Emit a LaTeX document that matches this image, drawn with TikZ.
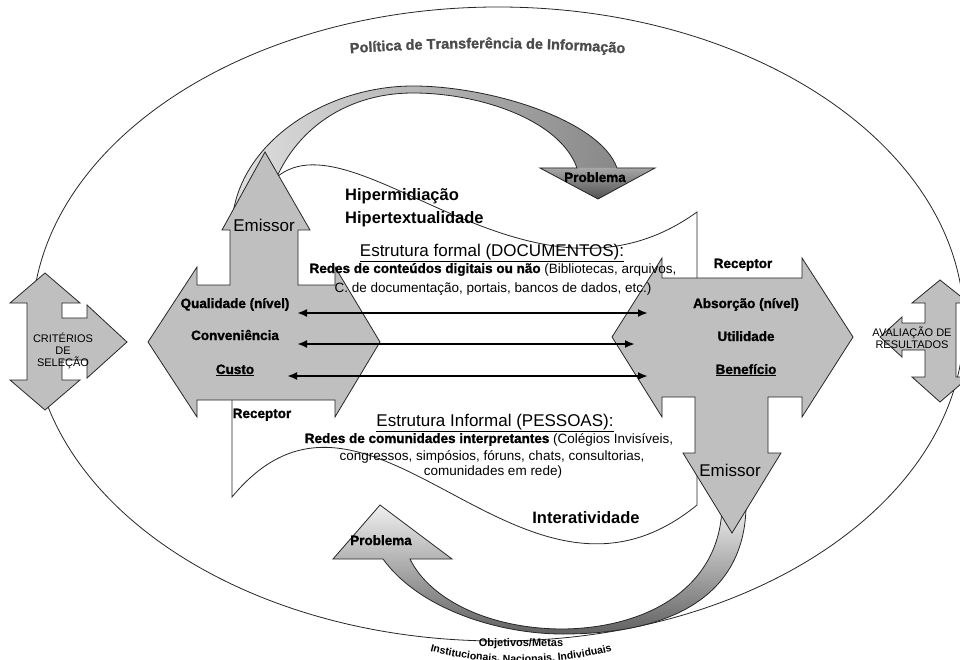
\documentclass[tikz,border=0pt]{standalone}
\usepackage{fontspec}
\setmainfont{Liberation Sans}
\newfontfamily\heavyfont[FakeBold=1.2]{Liberation Sans Bold}
\usetikzlibrary{arrows.meta,decorations.text}
\tikzset{
  body/.style={fill=black!25, draw=black!85, line width=0.8pt, line join=miter},
  wavebox/.style={fill=white, draw=black!85, line width=0.8pt},
  edgeline/.style={draw=black!85, line width=0.8pt},
  lbl/.style={inner sep=0pt, font=\heavyfont\fontsize{13.5}{15}\selectfont},
  bigtxt/.style={inner sep=0pt, font=\fontsize{17}{19}\selectfont},
  bigbold/.style={inner sep=0pt, font=\bfseries\fontsize{16.5}{19}\selectfont},
  bodytxt/.style={inner sep=0pt, font=\fontsize{13.5}{15}\selectfont},
  smalltxt/.style={inner sep=0pt, align=center, font=\fontsize{11}{12}\selectfont},
  dbl/.style={{Latex[length=10pt,width=8pt]}-{Latex[length=10pt,width=8pt]}, line width=2.4pt},
}
\begin{document}
\begin{tikzpicture}[x=1pt,y=-1pt]
\useasboundingbox (0,0) rectangle (960,660);
\fill[white] (0,0) rectangle (960,660);

% outer ellipse
\draw[black!85, line width=0.8pt] (498,324) ellipse [x radius=466pt, y radius=317pt];

% title along arc
\path[decorate, decoration={text along path, text align=center,
  text={|\heavyfont\fontsize{14.5}{16}\selectfont\color{black!70}|Política de Transferência de Informação}}]
  (330,55) .. controls (430,46) and (545,46) .. (645,55);

% wave (white flag)
\path[wavebox] (232,497) -- (232,290) -- (262,195) .. controls (330,80) and (520,340) .. (697,212)
  -- (697,505) .. controls (520,650) and (370,330) .. (232,497) -- cycle;

% top curved arrow
\path[left color=black!12, right color=black!50]
  (232,235) .. controls (228,150) and (320,86) .. (413,86) .. controls (490,86) and (600,120) .. (617,168)
  -- (655,168) -- (598,199) -- (540,168) -- (577,168)
  .. controls (560,120) and (480,93) .. (413,93) .. controls (330,93) and (268,150) .. (263,235) -- cycle;
\path[top color=black!35, bottom color=black!68] (540,168) -- (655,168) -- (598,199) -- cycle;
\draw[edgeline]
  (232,235) .. controls (228,150) and (320,86) .. (413,86) .. controls (490,86) and (600,120) .. (617,168)
  -- (655,168) -- (598,199) -- (540,168) -- (577,168)
  .. controls (560,120) and (480,93) .. (413,93) .. controls (330,93) and (268,150) .. (263,235) -- cycle;

% bottom curved arrow
\path[draw=black!85, line width=0.8pt, top color=black!4, bottom color=black!62]
  (383,559) .. controls (420,610) and (500,634) .. (563,634) .. controls (680,634) and (748,590) .. (746,500)
  -- (722,500) .. controls (724,585) and (650,628) .. (563,629) .. controls (490,629) and (430,600) .. (410,559)
  -- (452,559) -- (380,505) -- (333,559) -- cycle;

% left small shape (criterios)
\path[body] (45,273) -- (80,303) -- (62,303) -- (62,318) -- (87,318) -- (87,305) -- (127,342)
  -- (87,378) -- (87,360) -- (62,360) -- (62,380) -- (80,380) -- (45,410) -- (10,380)
  -- (27,380) -- (27,303) -- (10,303) -- cycle;
% right small shape (avaliacao)
\path[body] (940,280) -- (969,303) -- (956,303) -- (956,377) -- (969,377) -- (940,402) -- (912,377)
  -- (925,377) -- (925,350) -- (902,350) -- (902,357) -- (880,337) -- (902,317) -- (902,323)
  -- (925,323) -- (925,303) -- (912,303) -- cycle;

% left big body
\path[body] (265,152) -- (310,230) -- (298,230) -- (298,285) -- (335,285) -- (335,267) -- (380,342)
  -- (335,417) -- (335,400) -- (197,400) -- (197,417) -- (148,342) -- (197,267) -- (197,285)
  -- (230,285) -- (230,230) -- (222,230) -- cycle;
% right big body
\path[body] (662,278) -- (802,278) -- (802,258) -- (853,337) -- (802,417) -- (802,397) -- (768,397)
  -- (768,453) -- (781,453) -- (732,533) -- (683,453) -- (695,453) -- (695,397) -- (662,397)
  -- (662,417) -- (612,337) -- (662,258) -- cycle;

% double arrows
\coordinate (a1l) at (297,313); \coordinate (a1r) at (648,313);
\coordinate (a2l) at (297,344); \coordinate (a2r) at (635,344);
\coordinate (a3l) at (287,376); \coordinate (a3r) at (648,376);
\draw[dbl] (a1l) -- (a1r);
\draw[dbl] (a2l) -- (a2r);
\draw[dbl] (a3l) -- (a3r);

% texts left body
\node[bigtxt, anchor=base] (emL) at (264,232) {Emissor};
\node[lbl, anchor=base] (qual) at (235,308) {Qualidade (nível)};
\node[lbl, anchor=base] (conv) at (235,340) {Conveniência};
\node[lbl, anchor=base] (cust) at (235,374) {\underline{Custo}};
\node[lbl, anchor=base] (recL) at (262,418) {Receptor};
% texts right body
\node[lbl, anchor=base] (recR) at (743,268) {Receptor};
\node[lbl, anchor=base] (abs) at (746,308) {Absorção (nível)};
\node[lbl, anchor=base] (util) at (746,341) {Utilidade};
\node[lbl, anchor=base] (bene) at (746,374) {\underline{Benefício}};
\node[bigtxt, anchor=base] (emR) at (730,476) {Emissor};
% problema labels
\node[lbl, anchor=base] (probT) at (595,182) {Problema};
\node[lbl, anchor=base] (probB) at (381,545) {Problema};

% center texts
\node[bigbold, anchor=base west] (hipm) at (345,201) {Hipermidiação};
\node[bigbold, anchor=base west] (hipt) at (345,224) {Hipertextualidade};
\node[bigtxt, anchor=base] (ef) at (492,256) {\underline{Estrutura formal (DOCUMENTOS):}};
\node[bodytxt, anchor=base] (rd1) at (493,273) {{\heavyfont Redes de conteúdos digitais ou não} (Bibliotecas, arquivos,};
\node[bodytxt, anchor=base] (rd2) at (493,292) {C. de documentação, portais, bancos de dados, etc.)};
\node[bigtxt, anchor=base] (ei) at (495,426) {\underline{Estrutura Informal (PESSOAS):}};
\node[bodytxt, anchor=base] (rc1) at (489,443) {{\heavyfont Redes de comunidades interpretantes} (Colégios Invisíveis,};
\node[bodytxt, anchor=base] (rc2) at (492,460) {congressos, simpósios, fóruns, chats, consultorias,};
\node[bodytxt, anchor=base] (rc3) at (493,475) {comunidades em rede)};
\node[bigbold, anchor=base] (inter) at (586,523) {Interatividade};

% small shapes texts
\node[smalltxt] (crit) at (63,351) {CRITÉRIOS\\DE\\SELEÇÃO};
\node[smalltxt] (aval) at (912,338) {AVALIAÇÃO DE\\RESULTADOS};

% bottom texts
\node[inner sep=0pt, anchor=base, font=\bfseries\fontsize{11}{13}\selectfont] (obj) at (521,646) {Objetivos/Metas};
\path[decorate, decoration={text along path, text align=center,
  text={|\bfseries\fontsize{10.5}{12}\selectfont|Institucionais, Nacionais, Individuais}}]
  (412,646) .. controls (480,668) and (560,668) .. (630,646);
\end{tikzpicture}
\end{document}
